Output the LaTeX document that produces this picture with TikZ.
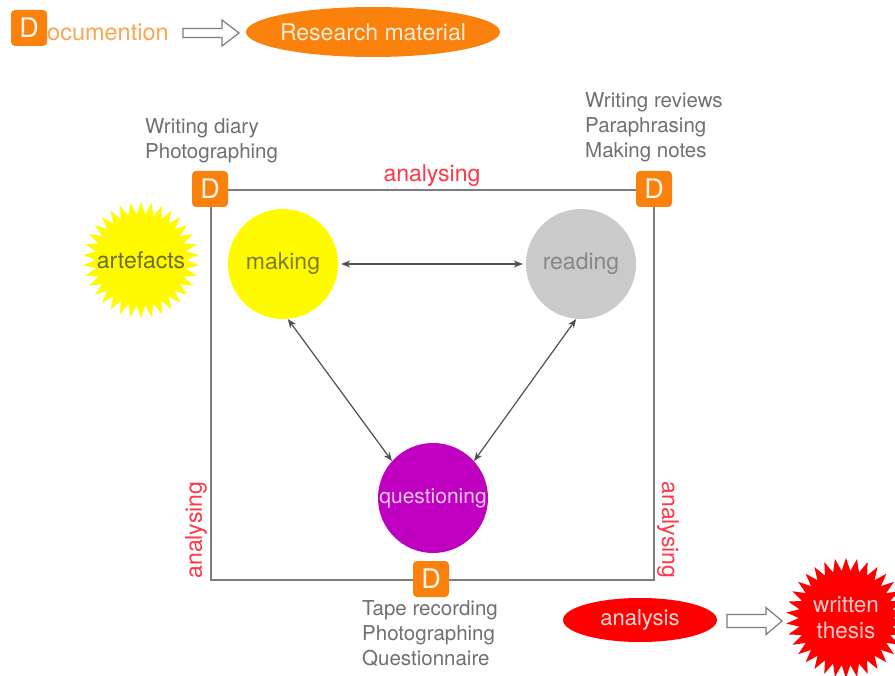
\documentclass[tikz,border=0pt]{standalone}
\usepackage{fontspec}
\setmainfont{TeX Gyre Heros}
\usetikzlibrary{shapes.geometric,arrows.meta,calc}
\definecolor{dorange}{RGB}{250,130,12}
\definecolor{lorange}{RGB}{252,165,80}
\definecolor{myyellow}{RGB}{255,250,0}
\definecolor{mygray}{RGB}{202,202,202}
\definecolor{mypurple}{RGB}{192,0,192}
\definecolor{myred}{RGB}{255,0,0}
\definecolor{anred}{RGB}{255,55,70}
\definecolor{txtgray}{RGB}{112,112,112}
\definecolor{linegray}{RGB}{125,125,125}
\definecolor{arrgray}{RGB}{80,80,80}
\begin{document}
\begin{tikzpicture}[x=1pt,y=-1pt,
  dbox/.style={rectangle,rounded corners=4pt,fill=dorange,minimum size=36pt,inner sep=0pt,
    text=white!92!orange,font=\fontsize{27}{27}\selectfont},
  bigcirc/.style={circle,minimum size=110pt,inner sep=0pt,font=\fontsize{23}{23}\selectfont},
  graytext/.style={align=left,text=txtgray,inner sep=0pt,anchor=west,font=\fontsize{20.5}{25}\selectfont},
  anlabel/.style={text=anred,inner sep=0pt,font=\fontsize{23}{23}\selectfont},
  biarrow/.style={draw=arrgray,line width=1.2pt,{Stealth[length=9pt,width=7pt]}-{Stealth[length=9pt,width=7pt]}},
  hollow/.style={draw=linegray,line width=1.2pt,fill=white,line join=miter},
  burst/.style={star,star points=34,star point ratio=1.27,minimum size=116pt,inner sep=0pt},
  ell/.style={ellipse,inner sep=0pt}]
\useasboundingbox (0,0) rectangle (895,676);
\fill[white] (0,0) rectangle (895,676);

% top legend
\node[dbox] (dleg) at (29,28) {D};
\node[anchor=west,inner sep=0pt,text=lorange,font=\fontsize{23.5}{23.5}\selectfont] (doc) at (47,32) {ocumention};
\node[ell,fill=dorange,minimum width=254pt,minimum height=50pt] (res) at (373,32) {};
\node[inner sep=0pt,text=white!85!orange,font=\fontsize{23}{23}\selectfont] (rest) at (res.center) {Research material};
\coordinate (ta1) at (183,33);
\coordinate (ta2) at (239,33);
\draw[hollow] ($(ta1)+(0,-4.5)$) -- ($(ta2)+(-17,-4.5)$) -- ($(ta2)+(-17,-13)$) -- (ta2)
  -- ($(ta2)+(-17,13)$) -- ($(ta2)+(-17,4.5)$) -- ($(ta1)+(0,4.5)$) -- cycle;

% frame
\coordinate (cTL) at (211,190);
\coordinate (cTR) at (654,190);
\coordinate (cB) at (431,580);
\draw[linegray,line width=1.5pt] (cTL) -- (cTR) -- (cTR |- cB) -- (cTL |- cB) -- cycle;
\node[dbox] (dTL) at (210,189) {D};
\node[dbox] (dTR) at (654,189) {D};
\node[dbox] (dB) at (431,579) {D};

% labels
\node[anlabel] (anTop) at (432,176) {analysing};
\node[anlabel,rotate=90] (anLeft) at (196,530) {analysing};
\node[anlabel,rotate=-90] (anRight) at (668,530) {analysing};

\node[graytext] (tl) at (145,141) {Writing diary\\Photographing};
\node[graytext] (tr) at (585,127) {Writing reviews\\Paraphrasing\\Making notes};
\node[graytext] (bt) at (362,634) {Tape recording\\Photographing\\Questionnaire};

% circles
\node[bigcirc,fill=myyellow,text={rgb,255:red,125;green,125;blue,45}] (making) at (283,264) {making};
\node[bigcirc,fill=mygray,text={rgb,255:red,135;green,135;blue,135}] (reading) at (581,264) {reading};
\node[bigcirc,fill=mypurple,text={rgb,255:red,245;green,200;blue,245},font=\fontsize{21}{21}\selectfont] (quest) at (433,498) {questioning};

\draw[biarrow] ([xshift=3pt]making.east) -- ([xshift=-3pt]reading.west);
\draw[biarrow] (making.-85) -- (quest.138);
\draw[biarrow] (reading.-95) -- (quest.42);

% artefacts
\node[burst,fill=myyellow] (art) at (141,260) {};
\node[inner sep=0pt,text={rgb,255:red,110;green,110;blue,40},font=\fontsize{23}{23}\selectfont] (artt) at (art.center) {artefacts};

% bottom right
\node[ell,fill=myred,minimum width=154pt,minimum height=44pt] (ana) at (640,620) {};
\node[inner sep=0pt,text=white!85!red,font=\fontsize{22}{22}\selectfont] (anat) at (ana.center) {analysis};
\node[burst,fill=myred,minimum size=120pt] (thesis) at (846,618) {};
\node[inner sep=0pt,align=center,text=white!80!red,font=\fontsize{22.5}{26}\selectfont] (thesist) at (thesis.center) {written\\thesis};
\coordinate (ba1) at (727,621);
\coordinate (ba2) at (782,621);
\draw[hollow] ($(ba1)+(0,-6.5)$) -- ($(ba2)+(-16,-6.5)$) -- ($(ba2)+(-16,-13.5)$) -- (ba2)
  -- ($(ba2)+(-16,13.5)$) -- ($(ba2)+(-16,6.5)$) -- ($(ba1)+(0,6.5)$) -- cycle;
\end{tikzpicture}
\end{document}
